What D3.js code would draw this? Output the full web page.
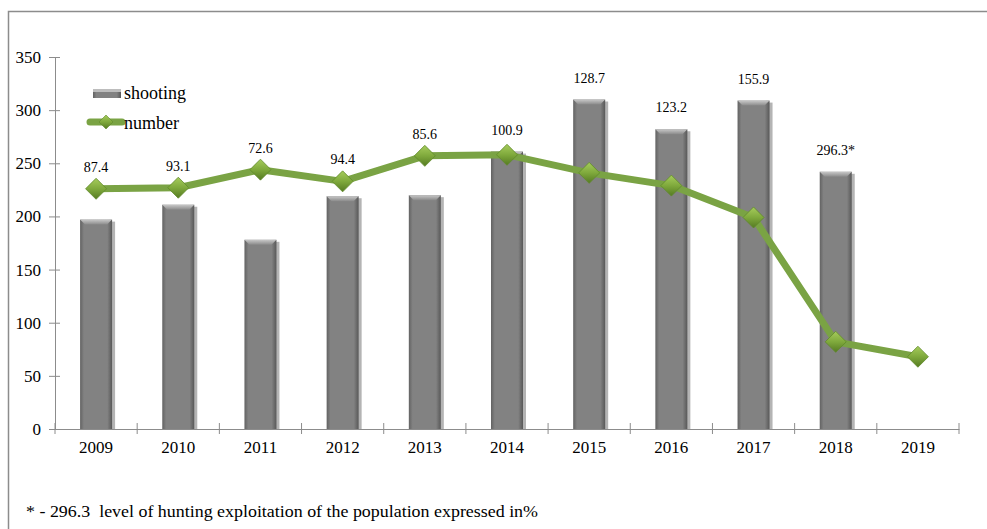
<!DOCTYPE html>
<html>
<head>
<meta charset="utf-8">
<script src="https://cdn.jsdelivr.net/npm/d3@7"></script>
<style>
  body { margin: 0; background: #fff; }
  svg text { font-family: 'Liberation Serif', 'Times New Roman', 'DejaVu Serif', serif !important; }
</style>
</head>
<body>
<script>
// values
var years = ['2009', '2010', '2011', '2012', '2013', '2014', '2015', '2016', '2017', '2018', '2019'];
var shooting = [197, 211, 178, 219, 220, 261, 310, 282, 309, 242, null];
var number = [226, 227, 244, 233, 257, 258, 241, 229, 199, 82, 68];
var labels = ['87.4', '93.1', '72.6', '94.4', '85.6', '100.9', '128.7', '123.2', '155.9', '296.3*', ''];
var yTicks = [0, 50, 100, 150, 200, 250, 300, 350];
var footnote = '* - 296.3  level of hunting exploitation of the population expressed in%';

var width = 987, height = 529;
var serif = "'Liberation Serif', 'Times New Roman', serif";
var svg = d3.select('body').append('svg')
  .attr('width', width)
  .attr('height', height)
  .attr('font-family', serif);

var defs = svg.append('defs');

var barGrad = defs.append('linearGradient').attr('id', 'barGrad')
  .attr('x1', 0).attr('x2', 1).attr('y1', 0).attr('y2', 0);
barGrad.append('stop').attr('offset', '0%').attr('stop-color', '#626262');
barGrad.append('stop').attr('offset', '12%').attr('stop-color', '#828282');
barGrad.append('stop').attr('offset', '85%').attr('stop-color', '#828282');
barGrad.append('stop').attr('offset', '100%').attr('stop-color', '#585858');

var capGrad = defs.append('linearGradient').attr('id', 'capGrad')
  .attr('x1', 0).attr('x2', 0).attr('y1', 0).attr('y2', 1);
capGrad.append('stop').attr('offset', '0%').attr('stop-color', '#c8c8c8');
capGrad.append('stop').attr('offset', '100%').attr('stop-color', '#8a8a8a');

var diaGrad = defs.append('linearGradient').attr('id', 'diaGrad')
  .attr('x1', 0).attr('x2', 0).attr('y1', 0).attr('y2', 1);
diaGrad.append('stop').attr('offset', '0%').attr('stop-color', '#a6cc5c');
diaGrad.append('stop').attr('offset', '50%').attr('stop-color', '#7fa93c');
diaGrad.append('stop').attr('offset', '100%').attr('stop-color', '#557a22');

// outer frame
svg.append('path')
  .attr('d', 'M8.5,' + (height + 2) + 'V11.5H' + (width + 2))
  .attr('fill', 'none')
  .attr('stroke', '#8c8c8c')
  .attr('stroke-width', 1.5);

var x = d3.scaleBand().domain(years).range([55, 959]);
var y = d3.scaleLinear().domain([0, 350]).range([429, 57]);

var axisColor = '#8c8c8c';

// y axis
var yAxis = svg.append('g').attr('transform', 'translate(55,0)')
  .call(d3.axisLeft(y).tickValues(yTicks).tickSize(6).tickPadding(6).tickSizeOuter(0));
yAxis.attr('font-family', serif);
yAxis.select('.domain').attr('stroke', axisColor);
yAxis.selectAll('.tick line').attr('stroke', axisColor).attr('x2', 5).attr('x1', -6);
yAxis.selectAll('.tick text').attr('font-size', 17).attr('fill', '#000').attr('x', -14);

// x axis
var xAxis = svg.append('g').attr('transform', 'translate(0,429)')
  .call(d3.axisBottom(x).tickSize(0).tickPadding(12));
xAxis.attr('font-family', serif);
xAxis.select('.domain').attr('stroke', axisColor);
xAxis.selectAll('.tick text').attr('font-size', 17).attr('fill', '#000');
xAxis.selectAll('.sep').data(d3.range(years.length + 1)).enter().append('line')
  .attr('class', 'sep')
  .attr('x1', function(i) { return 55 + i * x.step(); })
  .attr('x2', function(i) { return 55 + i * x.step(); })
  .attr('y1', -6).attr('y2', 5)
  .attr('stroke', axisColor);

// bars
var barW = 32;
var barData = years.map(function(yr, i) { return { year: yr, v: shooting[i] }; })
  .filter(function(d) { return d.v !== null; });

var bars = svg.append('g').selectAll('g').data(barData).enter().append('g');
bars.append('rect') // shadow
  .attr('x', function(d) { return x(d.year) + x.bandwidth() / 2 - barW / 2 + 3; })
  .attr('y', function(d) { return y(d.v) + 2; })
  .attr('width', barW)
  .attr('height', function(d) { return 429 - y(d.v) - 2; })
  .attr('fill', '#b4b4b4');
bars.append('rect')
  .attr('x', function(d) { return x(d.year) + x.bandwidth() / 2 - barW / 2; })
  .attr('y', function(d) { return y(d.v); })
  .attr('width', barW)
  .attr('height', function(d) { return 429 - y(d.v); })
  .attr('fill', 'url(#barGrad)');
bars.append('path')
  .attr('d', function(d) {
    var l = x(d.year) + x.bandwidth() / 2 - barW / 2, t = y(d.v);
    return 'M' + l + ',' + t + 'H' + (l + barW) + 'L' + (l + barW - 5) + ',' + (t + 5) + 'H' + (l + 5) + 'Z';
  })
  .attr('fill', 'url(#capGrad)');

// line
var cx = function(i) { return x(years[i]) + x.bandwidth() / 2; };
var line = d3.line()
  .x(function(d, i) { return cx(i); })
  .y(function(d) { return y(d); });

svg.append('path')
  .datum(number)
  .attr('d', line)
  .attr('fill', 'none')
  .attr('stroke', '#7aa344')
  .attr('stroke-width', 7)
  .attr('stroke-linejoin', 'round');

var diamond = function(s) { return 'M0,' + (-s) + 'L' + s + ',0L0,' + s + 'L' + (-s) + ',0Z'; };

svg.append('g').selectAll('path').data(number).enter().append('path')
  .attr('d', diamond(10.5))
  .attr('transform', function(d, i) { return 'translate(' + cx(i) + ',' + y(d) + ')'; })
  .attr('fill', 'url(#diaGrad)')
  .attr('stroke', '#5f8a2a')
  .attr('stroke-width', 0.8);

// data labels above the higher mark
svg.append('g').selectAll('text').data(labels).enter().append('text')
  .attr('x', function(d, i) { return cx(i); })
  .attr('y', function(d, i) {
    var top = Math.max(shooting[i] || 0, number[i]);
    return y(top) - 17;
  })
  .attr('text-anchor', 'middle')
  .attr('font-size', 14)
  .attr('fill', '#000')
  .text(function(d) { return d; });

// legend
var lg = svg.append('g');
lg.append('rect').attr('x', 93).attr('y', 89).attr('width', 28).attr('height', 9).attr('fill', 'url(#barGrad)');
lg.append('rect').attr('x', 93).attr('y', 89).attr('width', 28).attr('height', 3).attr('fill', '#bdbdbd');
lg.append('text').attr('x', 124).attr('y', 99).attr('font-size', 18).text('shooting');
lg.append('line').attr('x1', 90).attr('x2', 122).attr('y1', 122).attr('y2', 122)
  .attr('stroke', '#7aa344').attr('stroke-width', 7).attr('stroke-linecap', 'round');
lg.append('path').attr('d', diamond(7)).attr('transform', 'translate(106,122)')
  .attr('fill', 'url(#diaGrad)').attr('stroke', '#5f8a2a').attr('stroke-width', 0.6);
lg.append('text').attr('x', 124).attr('y', 129).attr('font-size', 18).text('number');

// footnote
svg.append('text')
  .attr('x', 26).attr('y', 517)
  .attr('font-size', 16)
  .attr('xml:space', 'preserve')
  .attr('textLength', 512)
  .attr('lengthAdjust', 'spacingAndGlyphs')
  .text(footnote);
</script>
</body>
</html>
